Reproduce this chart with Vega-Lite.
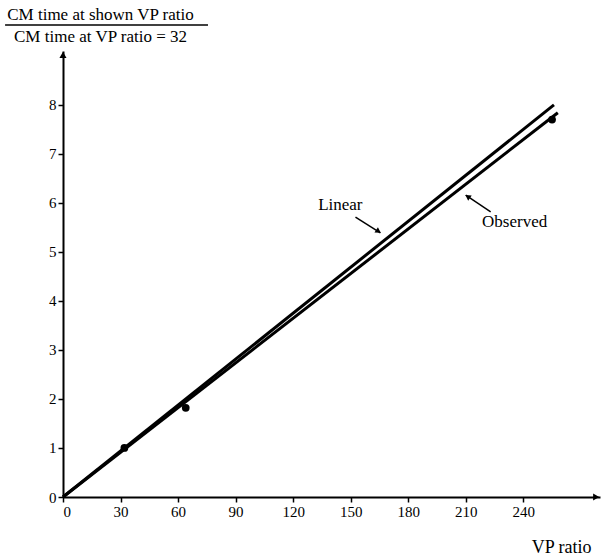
{
  "$schema": "https://vega.github.io/schema/vega-lite/v6.json",
  "width": 537,
  "height": 446,
  "autosize": "none",
  "padding": {"left": 63, "top": 51, "right": 4, "bottom": 62},
  "config": {"view": {"stroke": null}, "font": "Liberation Serif"},
  "layer": [
    {
      "data": {"values": [{"series": "Linear", "vp": 0, "ratio": 0}, {"series": "Linear", "vp": 256, "ratio": 8}, {"series": "Observed", "vp": 0, "ratio": 0}, {"series": "Observed", "vp": 258, "ratio": 7.84}]},
      "mark": {"type": "line", "color": "black", "strokeWidth": 3},
      "encoding": {
        "x": {"field": "vp", "type": "quantitative", "scale": {"domain": [0, 280], "nice": false, "zero": false},
          "axis": {"values": [0, 30, 60, 90, 120, 150, 180, 210, 240], "grid": false, "domainColor": "black", "domainWidth": 2, "tickColor": "black", "tickSize": 5, "tickWidth": 1.5, "labelFontSize": 15, "labelColor": "black", "labelPadding": 2, "labelFont": "Liberation Serif",
            "title": "VP ratio", "titleFont": "Liberation Serif", "titleFontSize": 18, "titleFontWeight": "normal", "titleColor": "black", "titleX": 528, "titleY": 50, "titleAlign": "right", "titleBaseline": "middle", "titleAnchor": null}},
        "y": {"field": "ratio", "type": "quantitative", "scale": {"domain": [0, 9.1], "nice": false, "zero": false},
          "axis": {"values": [0, 1, 2, 3, 4, 5, 6, 7, 8], "grid": false, "domainColor": "black", "domainWidth": 2, "tickColor": "black", "tickSize": 5, "tickWidth": 1.5, "labelFontSize": 15, "labelColor": "black", "labelPadding": 2, "labelFont": "Liberation Serif",
            "title": ["CM time at shown VP ratio", "CM time at VP ratio = 32"], "titleAngle": 0, "titleFont": "Liberation Serif", "titleFontSize": 17, "titleFontWeight": "normal", "titleColor": "black", "titleX": 37, "titleY": -45, "titleAlign": "center", "titleBaseline": "top", "titleLineHeight": 22, "titleAnchor": null}},
        "detail": {"field": "series"}
      }
    },
    {
      "data": {"values": [{"vp": 32, "ratio": 1.0}, {"vp": 64, "ratio": 1.82}, {"vp": 255, "ratio": 7.7}]},
      "mark": {"type": "point", "filled": true, "color": "black", "size": 60, "opacity": 1},
      "encoding": {"x": {"field": "vp", "type": "quantitative"}, "y": {"field": "ratio", "type": "quantitative"}}
    },
    {
      "data": {"values": [{"x1": -30.2, "y1": 9.63, "x2": 75.6, "y2": 9.63}, {"x1": 152.5, "y1": 5.71, "x2": 165.5, "y2": 5.39}, {"x1": 223, "y1": 5.82, "x2": 210, "y2": 6.16}]},
      "mark": {"type": "rule", "color": "black", "strokeWidth": 1.5, "clip": false},
      "encoding": {"x": {"field": "x1", "type": "quantitative"}, "y": {"field": "y1", "type": "quantitative"}, "x2": {"field": "x2"}, "y2": {"field": "y2"}}
    },
    {
      "data": {"values": [{"vp": 164.5, "ratio": 5.42}]},
      "mark": {"type": "point", "shape": "triangle-up", "filled": true, "color": "black", "size": 40, "angle": 123, "opacity": 1},
      "encoding": {"x": {"field": "vp", "type": "quantitative"}, "y": {"field": "ratio", "type": "quantitative"}}
    },
    {
      "data": {"values": [{"vp": 211, "ratio": 6.13}]},
      "mark": {"type": "point", "shape": "triangle-up", "filled": true, "color": "black", "size": 40, "angle": 304, "opacity": 1},
      "encoding": {"x": {"field": "vp", "type": "quantitative"}, "y": {"field": "ratio", "type": "quantitative"}}
    },
    {
      "data": {"values": [{"vp": 278, "ratio": 0}]},
      "mark": {"type": "point", "shape": "triangle-right", "filled": true, "color": "black", "size": 50, "opacity": 1, "clip": false},
      "encoding": {"x": {"field": "vp", "type": "quantitative"}, "y": {"field": "ratio", "type": "quantitative"}}
    },
    {
      "data": {"values": [{"vp": 0, "ratio": 9.02}]},
      "mark": {"type": "point", "shape": "triangle-up", "filled": true, "color": "black", "size": 50, "opacity": 1, "clip": false},
      "encoding": {"x": {"field": "vp", "type": "quantitative"}, "y": {"field": "ratio", "type": "quantitative"}}
    },
    {
      "data": {"values": [{"label": "Linear", "vp": 144.6, "ratio": 5.96}, {"label": "Observed", "vp": 235.5, "ratio": 5.61}]},
      "mark": {"type": "text", "font": "Liberation Serif", "fontSize": 17, "color": "black"},
      "encoding": {"x": {"field": "vp", "type": "quantitative"}, "y": {"field": "ratio", "type": "quantitative"}, "text": {"field": "label"}}
    }
  ]
}
